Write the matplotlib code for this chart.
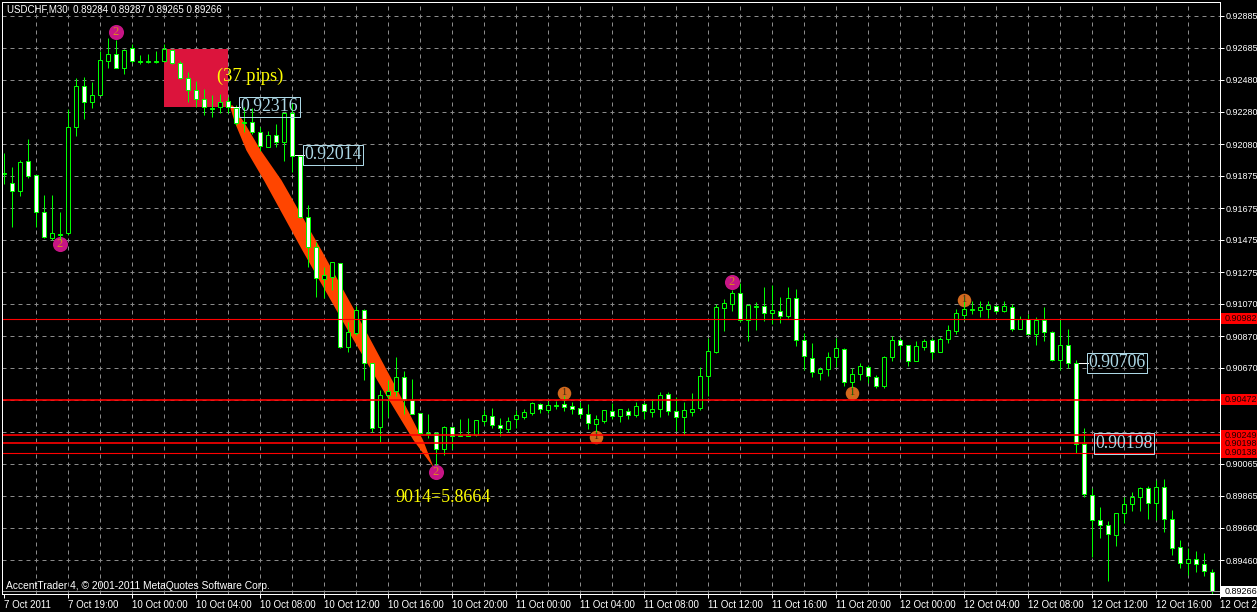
import numpy as np
import matplotlib
matplotlib.use("Agg")
import matplotlib.pyplot as plt
from matplotlib.patches import Rectangle

# prices are in points (1e-5)
high_pts = [92027,91939,91983,92115,91888,91762,91762,91655,92304,92499,
92505,92474,92669,92751,92738,92681,92713,92644,92650,92669,
92713,92681,92606,92537,92480,92430,92392,92398,92379,92329,
92316,92310,92190,92165,92209,92285,92342,92008,91699,91466,
91309,91340,91334,90963,91063,91045,90705,90535,90598,90742,
90654,90604,90390,90383,90270,90308,90302,90352,90358,90346,
90409,90421,90358,90365,90409,90415,90459,90453,90465,90465,
90497,90459,90459,90446,90377,90409,90453,90415,90421,90459,
90459,90478,90522,90522,90490,90459,90516,90679,90862,91076,
91107,91164,91208,91076,91089,91183,91196,91120,91183,91170,
90893,90830,90679,90774,90862,90799,90673,90705,90692,90629,
90749,90875,90862,90818,90843,90856,90862,90868,90944,91045,
91120,91095,91095,91095,91070,91095,91076,91000,91013,90994,
91057,90906,90975,90919,90723,90295,89918,89798,89710,89760,
89861,89892,89924,89930,89968,89974,89779,89590,89540,89521,
89508,89408]
low_pts = [91832,91561,91756,91869,91561,91492,91479,91479,91510,92134,
92241,92310,92392,92562,92562,92524,92593,92587,92593,92593,
92600,92587,92493,92348,92316,92266,92253,92279,92279,92203,
92159,92146,92039,92064,92064,91976,91907,91617,91309,91120,
91114,91164,90799,90774,90881,90598,90270,90207,90365,90497,
90383,90383,90258,90232,90062,90125,90163,90245,90245,90245,
90314,90295,90245,90270,90295,90352,90377,90390,90390,90415,
90402,90383,90358,90289,90264,90327,90352,90333,90352,90365,
90352,90365,90365,90377,90276,90251,90371,90409,90497,90768,
90906,91032,90963,90843,90912,90969,90950,90956,90988,90812,
90660,90616,90598,90623,90679,90560,90503,90598,90579,90547,
90547,90717,90730,90686,90717,90786,90730,90774,90830,90887,
90975,91013,90994,90988,91019,91026,90906,90919,90887,90818,
90843,90717,90660,90673,90138,89861,89483,89603,89332,89552,
89697,89773,89773,89722,89716,89641,89496,89414,89370,89389,
89364,89244]
open_pts = [91894,91838,91787,91976,91888,91655,91492,91510,91523,92190,
92449,92348,92392,92606,92650,92562,92688,92602,92600,92602,
92606,92675,92593,92499,92423,92367,92306,92316,92354,92310,
92216,92222,92159,92064,92140,92096,92279,92008,91624,91435,
91233,91246,91334,90805,90893,91038,90705,90302,90503,90528,
90616,90472,90390,90258,90264,90163,90302,90245,90245,90251,
90339,90371,90314,90289,90352,90365,90390,90446,90409,90434,
90446,90434,90421,90383,90320,90339,90402,90371,90402,90377,
90446,90396,90415,90509,90402,90365,90396,90421,90623,90774,
91051,91076,91145,90975,91057,91063,91019,91032,91000,91114,
90849,90736,90642,90667,90742,90793,90585,90635,90679,90616,
90560,90742,90849,90818,90717,90805,90849,90774,90856,90906,
91007,91039,91038,91045,91063,91032,91057,90919,90982,90887,
90975,90900,90723,90818,90705,90195,89873,89716,89685,89622,
89760,89817,89861,89918,89823,89924,89722,89546,89445,89471,
89439,89389]
close_pts = [91901,91787,91970,91882,91655,91498,91523,91517,92190,92449,
92348,92392,92612,92650,92562,92675,92606,92606,92606,92606,
92681,92593,92499,92423,92367,92316,92310,92348,92316,92216,
92222,92159,92071,92140,92096,92279,92008,91624,91435,91240,
91259,91340,90805,90900,91038,90705,90295,90503,90528,90616,
90472,90383,90264,90264,90163,90302,90245,90251,90258,90346,
90377,90314,90295,90339,90377,90396,90453,90415,90440,90440,
90428,90415,90383,90327,90352,90409,90371,90415,90377,90434,
90402,90415,90503,90402,90365,90409,90415,90623,90780,91057,
91082,91145,90975,91070,91063,91019,91038,91000,91114,90849,
90749,90648,90667,90742,90799,90585,90635,90686,90623,90560,
90742,90849,90818,90717,90812,90843,90774,90856,90912,91019,
91045,91045,91057,91070,91032,91063,90919,90982,90887,90975,
90900,90723,90818,90705,90195,89880,89716,89685,89628,89760,
89817,89861,89918,89823,89924,89722,89540,89445,89471,89439,
89395,89266]

ytick_pts = [92889,92688,92486,92285,92083,91882,91680,91479,91277,91076,
             90874,90673,90472,90270,90069,89867,89666,89464]
ytick_labels = ["0.92885","0.92685","0.92480","0.92280","0.92080","0.91875",
                "0.91675","0.91475","0.91275","0.91070","0.90870","0.90670",
                "","","0.90065","0.89865","0.89660","0.89460"]
xtick_labels = ["7 Oct 2011","7 Oct 19:00",
                "10 Oct 00:00","10 Oct 04:00","10 Oct 08:00","10 Oct 12:00","10 Oct 16:00","10 Oct 20:00",
                "11 Oct 00:00","11 Oct 04:00","11 Oct 08:00","11 Oct 12:00","11 Oct 16:00","11 Oct 20:00",
                "12 Oct 00:00","12 Oct 04:00","12 Oct 08:00","12 Oct 12:00","12 Oct 16:00","12 Oct 20:00"]

level_pts = [90982, 90472, 90249, 90198, 90138]
level_labels = ["0.90982", "0.90472", "0.90249", "0.90198", "0.90138"]
level_widths = [0.8, 1.2, 1.2, 1.2, 0.8]

zone_bars = [20, 28]
zone_pts = [92316, 92681]

ribbon_pts = [92329, 92216, 92046, 91857, 91416, 90912, 90535, 90220, 90056]
ribbon_left = [28.2, 28.9, 30.3, 32.5, 37.3, 43.0, 47.4, 51.2, 53.6]
ribbon_right = [28.6, 30.1, 32.1, 34.7, 39.7, 45.2, 49.2, 52.4, 53.65]

pink_bars = [14, 7, 54, 91]
pink_pts = [92788, 91454, 90018, 91215]
orange_bars = [70, 74, 106, 120]
orange_pts = [90516, 90239, 90516, 91101]

box_values = ["0.92316", "0.92014", "0.90706", "0.90198"]
box_pts = [92316, 92014, 90706, 90198]
box_bars = [29.6, 37.6, 135.6, 136.5]
connector_start = [28, 36, 134]

current_pts = 89266

W, H = 1257, 612
fig = plt.figure(figsize=(W / 100, H / 100), dpi=100, facecolor="black")
ax = fig.add_axes([2 / W, (H - 594) / H, 1218 / W, 592 / H], facecolor="black")
px = 0.72
SANS = ["Liberation Sans Narrow", "Liberation Sans", "DejaVu Sans"]
SERIF = ["Liberation Serif", "DejaVu Serif"]
TICKFS = 7.0
RIGHTFS = 6.5

high, low = np.array(high_pts) / 1e5, np.array(low_pts) / 1e5
op, cl = np.array(open_pts) / 1e5, np.array(close_pts) / 1e5
x = np.arange(len(high))

# bar centres fall on pixel centres so one-pixel wicks stay solid
ax.set_xlim(-0.1875, 152.0625)
ax.set_ylim(89250 / 1e5, 92977 / 1e5)

# grid
grid = dict(color="#8a8a8a", lw=px, ls=(0, (4, 4)), zorder=1)
for p in ytick_pts:
    ax.axhline(p / 1e5, **grid)
for i in range(4, 153, 4):
    ax.axvline(i, **grid)

# sell zone + ribbon
ax.add_patch(Rectangle((zone_bars[0], zone_pts[0] / 1e5), zone_bars[1] - zone_bars[0],
                       (zone_pts[1] - zone_pts[0]) / 1e5, facecolor="#dc143c", edgecolor="none", zorder=1.5))
ax.fill_betweenx(np.array(ribbon_pts) / 1e5, ribbon_left, ribbon_right, color="#ff4500", lw=0, zorder=1.6)

# pink / orange markers under the candles
ax.scatter(pink_bars, np.array(pink_pts) / 1e5, s=118, color="#c71585", lw=0, zorder=1.8)
ax.scatter(orange_bars, np.array(orange_pts) / 1e5, s=95, color="#d2691e", lw=0, zorder=1.8)

# candles
ax.vlines(x, low, high, color="#00ff00", lw=px, zorder=2)
bear = cl < op
bars = ax.bar(x, np.maximum(np.abs(op - cl), 1e-6), bottom=np.minimum(op, cl), width=0.5,
              color=np.where(bear, "white", "black").tolist(), edgecolor="#00ff00", lw=px, zorder=3)
for r in bars:
    r.set_snap(True)

for b, p in zip(pink_bars, pink_pts):
    ax.text(b, p / 1e5, "2", color="#d98a1e", family=SERIF, fontsize=9, ha="center", va="center", zorder=4)
for b, p in zip(orange_bars, orange_pts):
    ax.text(b, p / 1e5, "1", color="#3a2a10", family=SERIF, fontsize=7.5, ha="center", va="center", zorder=4)

# horizontal levels
for p, w in zip(level_pts, level_widths):
    ax.axhline(p / 1e5, color="#ff0000", lw=w, zorder=5)
ax.axhline(current_pts / 1e5, color="#9a9a9a", lw=px, zorder=5)

# connectors and boxed prices
for s, e, p in zip(connector_start, box_bars, box_pts):
    ax.plot([s, e], [p / 1e5, p / 1e5], color="white", lw=px, zorder=2.5)
for b, p, t in zip(box_bars, box_pts, box_values):
    ax.text(b, p / 1e5, t, color="#add8e6", family=SERIF, fontsize=12.8, ha="left", va="center", zorder=6,
            bbox=dict(facecolor="none", edgecolor="#add8e6", lw=px, pad=1.2))

ax.text(26.7, 92510 / 1e5, "(37 pips)", color="#ffff00", family=SERIF, fontsize=13.3, ha="left", va="center", zorder=6)
ax.text(49, 89860 / 1e5, "9014=5.8664", color="#ffff00", family=SERIF, fontsize=13, ha="left", va="center", zorder=6)

# titles
ax.text(5 / 1218, 1 - 7 / 592, "USDCHF,M30  0.89284 0.89287 0.89265 0.89266", transform=ax.transAxes,
        color="white", family=SANS, fontsize=TICKFS, ha="left", va="center", zorder=7)
ax.text(4 / 1218, 8 / 592, "AccentTrader 4, \u00a9 2001-2011 MetaQuotes Software Corp.", transform=ax.transAxes,
        color="white", family=SANS, fontsize=7.4, ha="left", va="center", zorder=7)

# axes
for s in ax.spines.values():
    s.set_color("white")
    s.set_linewidth(px)
    s.set_zorder(8)
ax.yaxis.tick_right()
ax.set_yticks(np.array(ytick_pts) / 1e5, ytick_labels)
ax.set_xticks(np.arange(0, 153, 8), xtick_labels, ha="left")
ax.tick_params(axis="y", colors="white", length=3, width=px, pad=1.0, labelsize=RIGHTFS)
ax.tick_params(axis="x", colors="white", length=3, width=px, pad=1.2, labelsize=TICKFS)
for lab in ax.get_xticklabels() + ax.get_yticklabels():
    lab.set_family(SANS)

# right-hand price tags
tr = ax.get_yaxis_transform()
tag_half = 5.5 * (92977 - 89250) / 592 / 1e5
tagx = 1 + 1 / 1218
for p, t in zip(level_pts, level_labels):
    ax.add_patch(Rectangle((tagx, p / 1e5 - tag_half), 40 / 1218, 2 * tag_half, transform=tr, facecolor="#ff0000",
                           edgecolor="none", clip_on=False, zorder=9))
    ax.text(1 + 5 / 1218, p / 1e5, t, transform=tr, color="#200000", family=SANS, fontsize=RIGHTFS, ha="left",
            va="center", clip_on=False, zorder=9.5)
ax.add_patch(Rectangle((tagx, current_pts / 1e5 - tag_half), 40 / 1218, 2 * tag_half, transform=tr, facecolor="white",
                       edgecolor="none", clip_on=False, zorder=9))
ax.text(1 + 5 / 1218, current_pts / 1e5, "0.89266", transform=tr, color="black", family=SANS, fontsize=RIGHTFS, ha="left",
        va="center", clip_on=False, zorder=9.5)

fig.savefig("out.png", dpi=100, facecolor="black")
